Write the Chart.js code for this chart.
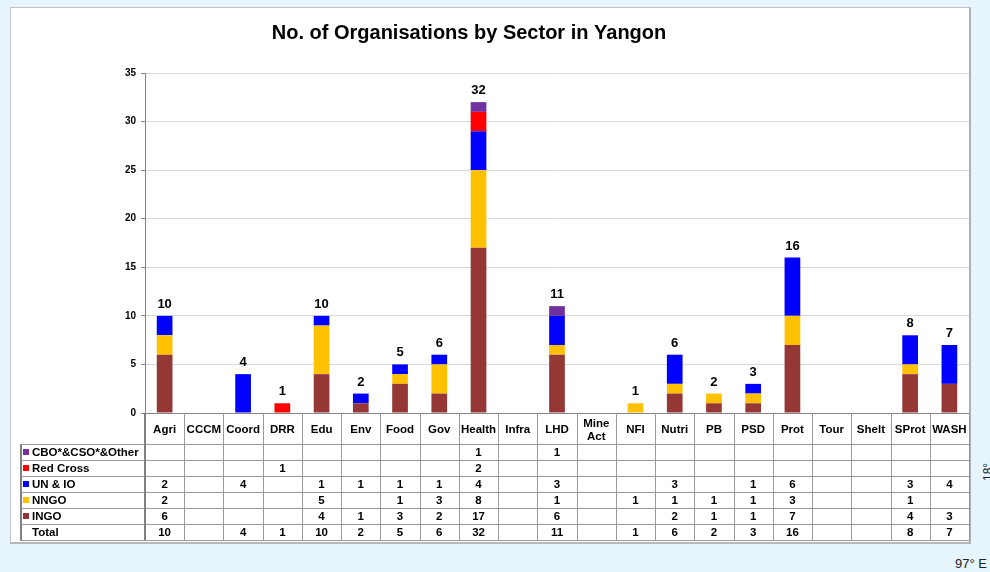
<!DOCTYPE html>
<html>
<head>
<meta charset="utf-8">
<script src="https://cdn.jsdelivr.net/npm/chart.js@4.4.1/dist/chart.umd.min.js"></script>
<style>
    body { margin: 0; background: #e5f4fd; font-family: "Liberation Sans", Arial, sans-serif; }
    #wrap { position: relative; width: 990px; height: 572px; overflow: hidden; }
    #panel { position: absolute; left: 10px; top: 7px; width: 958px; height: 534px;
             background: #fff; border: 1px solid #c4c4c4; border-right: 2px solid #b0b0b0; border-bottom: 2px solid #b8b8b8; }
    #chart { position: absolute; left: 0; top: 0; }
    .geo { position: absolute; font-size: 13px; color: #222; }
    #lon { left: 955px; top: 556px; }
    #lat { left: 981px; top: 481px; transform: rotate(-90deg); transform-origin: left top; font-size: 12px; }
</style>
</head>
<body>
<div id="wrap">
    <div id="panel"></div>
    <div class="geo" id="lon">97° E</div>
    <div class="geo" id="lat">18° N</div>
    <canvas id="chart" width="990" height="572"></canvas>
</div>
<script>
// No. of Organisations by Sector in Yangon

const sectors = ['Agri', 'CCCM', 'Coord', 'DRR', 'Edu', 'Env', 'Food', 'Gov', 'Health', 'Infra', 'LHD',
    'Mine Act', 'NFI', 'Nutri', 'PB', 'PSD', 'Prot', 'Tour', 'Shelt', 'SProt', 'WASH'];

const ingo     = [6, null, null, null, 4, 1, 3, 2, 17, null, 6, null, null, 2, 1, 1, 7, null, null, 4, 3];
const nngo     = [2, null, null, null, 5, null, 1, 3, 8, null, 1, null, 1, 1, 1, 1, 3, null, null, 1, null];
const unIo     = [2, null, 4, null, 1, 1, 1, 1, 4, null, 3, null, null, 3, null, 1, 6, null, null, 3, 4];
const redCross = [null, null, null, 1, null, null, null, null, 2, null, null, null, null, null, null, null, null, null, null, null, null];
const cboOther = [null, null, null, null, null, null, null, null, 1, null, 1, null, null, null, null, null, null, null, null, null, null];

const yTicks = [0, 5, 10, 15, 20, 25, 30, 35];

const totals = sectors.map((_, i) =>
    [ingo, nngo, unIo, redCross, cboOther].reduce((s, arr) => s + (arr[i] || 0), 0));

const FONT = '"Liberation Sans", Arial, sans-serif';

// table under the axis, rows listed top to bottom
const tableRows = [
    { label: 'CBO*&CSO*&Other', color: '#7030a0', values: cboOther },
    { label: 'Red Cross', color: '#ff0000', values: redCross },
    { label: 'UN & IO', color: '#0000ff', values: unIo },
    { label: 'NNGO', color: '#ffc000', values: nngo },
    { label: 'INGO', color: '#953735', values: ingo },
    { label: 'Total', color: null, values: totals }
];

const dataTablePlugin = {
    id: 'dataTable',
    afterDraw(chart) {
        const ctx = chart.ctx;
        const xs = chart.scales.x;
        const ys = chart.scales.y;
        const area = chart.chartArea;
        const colW = xs.width / sectors.length;
        const rowH = 16;
        const tableTop = area.bottom + 31;
        const tableLeft = 20;
        const tableBottom = tableTop + rowH * tableRows.length;

        ctx.save();

        // title
        ctx.fillStyle = '#000';
        ctx.font = 'bold 20px ' + FONT;
        ctx.textAlign = 'center';
        ctx.textBaseline = 'alphabetic';
        ctx.fillText('No. of Organisations by Sector in Yangon', 469, 39);

        // totals above the bars
        ctx.font = 'bold 13px ' + FONT;
        totals.forEach((t, i) => {
            if (!t) return;
            ctx.fillText(String(t), xs.getPixelForValue(i), ys.getPixelForValue(t) - 8);
        });

        // grid lines
        ctx.strokeStyle = '#999999';
        ctx.lineWidth = 1;
        ctx.beginPath();
        for (let i = 1; i <= sectors.length; i++) {
            const x = Math.round(area.left + i * colW) + 0.5;
            ctx.moveTo(x, area.bottom);
            ctx.lineTo(x, tableBottom);
        }
        for (let r = 0; r <= tableRows.length; r++) {
            const y = tableTop + r * rowH + 0.5;
            ctx.moveTo(tableLeft, y);
            ctx.lineTo(area.right, y);
        }
        ctx.stroke();

        ctx.strokeStyle = '#808080';
        ctx.lineWidth = 2;
        ctx.beginPath();
        ctx.moveTo(Math.round(area.left), area.bottom);
        ctx.lineTo(Math.round(area.left), tableBottom);
        ctx.moveTo(tableLeft + 1, tableTop);
        ctx.lineTo(tableLeft + 1, tableBottom);
        ctx.stroke();

        // category headers
        ctx.font = 'bold 11.5px ' + FONT;
        ctx.fillStyle = '#000';
        sectors.forEach((name, i) => {
            const x = xs.getPixelForValue(i);
            const parts = name.split(' ');
            if (parts.length > 1) {
                ctx.fillText(parts[0], x, area.bottom + 14);
                ctx.fillText(parts[1], x, area.bottom + 27);
            } else {
                ctx.fillText(name, x, area.bottom + 20);
            }
        });

        // rows
        tableRows.forEach((row, r) => {
            const base = tableTop + r * rowH + 12;
            if (row.color) {
                ctx.fillStyle = row.color;
                ctx.fillRect(23, tableTop + r * rowH + 5, 6, 6);
            }
            ctx.fillStyle = '#000';
            ctx.textAlign = 'left';
            ctx.fillText(row.label, 32, base);
            ctx.textAlign = 'center';
            row.values.forEach((v, i) => {
                if (v) ctx.fillText(String(v), xs.getPixelForValue(i), base);
            });
        });

        ctx.restore();
    }
};

const ctx = document.getElementById('chart');

new Chart(ctx, {
    type: 'bar',
    data: {
        labels: sectors,
        datasets: [
            { label: 'INGO', data: ingo, backgroundColor: '#953735' },
            { label: 'NNGO', data: nngo, backgroundColor: '#ffc000' },
            { label: 'UN & IO', data: unIo, backgroundColor: '#0000ff' },
            { label: 'Red Cross', data: redCross, backgroundColor: '#ff0000' },
            { label: 'CBO*&CSO*&Other', data: cboOther, backgroundColor: '#7030a0' }
        ]
    },
    options: {
        responsive: false,
        animation: false,
        devicePixelRatio: 1,
        layout: {
            padding: { top: 73, right: 21, bottom: 0, left: 0 }
        },
        datasets: {
            bar: { barPercentage: 0.4, categoryPercentage: 1 }
        },
        plugins: {
            legend: { display: false },
            title: { display: false },
            tooltip: { enabled: false }
        },
        scales: {
            x: {
                stacked: true,
                ticks: { display: false },
                grid: { display: false },
                border: { color: '#868686' },
                afterFit: function(scale) { scale.height = 159; }
            },
            y: {
                stacked: true,
                min: 0,
                max: 35,
                afterBuildTicks: function(scale) {
                    scale.ticks = yTicks.map(v => ({ value: v }));
                },
                ticks: {
                    color: '#000',
                    padding: 5,
                    font: { family: FONT, size: 10, weight: 'bold' }
                },
                grid: { color: '#d9d9d9', tickColor: '#868686', tickLength: 4 },
                border: { color: '#868686' },
                afterFit: function(scale) { scale.width = 145; }
            }
        }
    },
    plugins: [dataTablePlugin]
});
</script>
</body>
</html>
